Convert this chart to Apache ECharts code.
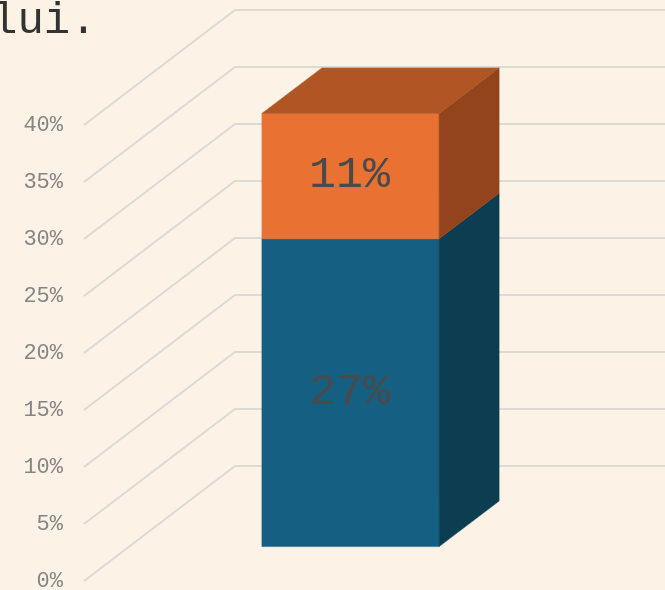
<!DOCTYPE html>
<html>
<head>
<meta charset="utf-8">
<style>
  html, body { margin: 0; padding: 0; background: #fcf2e5; }
  #chart { width: 665px; height: 590px; }
</style>
<script src="https://cdn.jsdelivr.net/npm/echarts@6/dist/echarts.min.js"></script>
</head>
<body>
<div id="chart"></div>
<script>
const categories = [''];
const bottomValues = [27];
const topValues = [11];
const tickValues = [0, 5, 10, 15, 20, 25, 30, 35, 40];

const FONT = '"Liberation Mono", monospace';
const wallDx = 151, wallDy = -115;     // floor depth
const barOffX = 45, barOffY = -34.4;   // where the bar front sits on the floor
const barDx = 60, barDy = -45.5;       // bar depth
const barShare = 0.4;

function shade(pts, fill) {
    return { type: 'polygon', shape: { points: pts }, style: { fill: fill, stroke: fill, lineWidth: 0.5 } };
}

function renderGrid(params, api) {
    const p = api.coord([0, api.value(0)]);
    const x0 = params.coordSys.x;
    return {
        type: 'polyline',
        shape: { points: [[x0, p[1]], [x0 + wallDx, p[1] + wallDy], [700, p[1] + wallDy]] },
        style: { stroke: '#dcdad7', lineWidth: 2, fill: null }
    };
}

function renderBlock(colors, showTop) {
    return function (params, api) {
        const c = api.value(0), from = api.value(1), to = api.value(2);
        const w = api.size([1, 0])[0] * barShare;
        const a = api.coord([c, from]), b = api.coord([c, to]);
        const x1 = a[0] - w / 2 + barOffX, x2 = x1 + w;
        const y1 = a[1] + barOffY, y2 = b[1] + barOffY;
        const children = [
            shade([[x1, y1], [x2, y1], [x2, y2], [x1, y2]], colors.front),
            shade([[x2, y1], [x2 + barDx, y1 + barDy], [x2 + barDx, y2 + barDy], [x2, y2]], colors.side)
        ];
        if (showTop) {
            children.push(shade([[x1, y2], [x2, y2], [x2 + barDx, y2 + barDy], [x1 + barDx, y2 + barDy]], colors.top));
        }
        children.push({
            type: 'text',
            style: {
                x: (x1 + x2) / 2 - 1, y: (y1 + y2) / 2 - 1,
                text: (to - from) + '%', fill: '#4a4a4a',
                font: '45px ' + FONT, align: 'center', verticalAlign: 'middle'
            }
        });
        return { type: 'group', children: children };
    };
}

const chart = echarts.init(document.getElementById('chart'), null, { renderer: 'canvas' });
chart.setOption({
    backgroundColor: '#fcf2e5',
    animation: false,
    grid: { left: 84, right: 138, top: 125, bottom: 9, outerBoundsMode: 'none' },
    xAxis: { type: 'category', data: categories, show: false },
    yAxis: {
        type: 'value', min: 0, max: 40, interval: 5,
        axisLine: { show: false }, axisTick: { show: false }, splitLine: { show: false },
        axisLabel: {
            formatter: '{value}%', color: '#858585', fontFamily: FONT, fontSize: 22,
            margin: 21, padding: [0, 0, 3, 0]
        }
    },
    graphic: [{
        type: 'text', left: -9, top: -1,
        style: { text: 'lui.', font: '44px ' + FONT, fill: '#333333' }
    }],
    series: [
        {
            type: 'custom', clip: false, z: 1,
            data: tickValues.map(v => [v]),
            encode: { y: 0 },
            renderItem: renderGrid
        },
        {
            type: 'custom', clip: false, z: 2,
            data: categories.map((c, i) => [i, 0, bottomValues[i]]),
            encode: { x: 0, y: [1, 2] },
            renderItem: renderBlock({ front: '#156082', side: '#0c3d51' }, false)
        },
        {
            type: 'custom', clip: false, z: 3,
            data: categories.map((c, i) => [i, bottomValues[i], bottomValues[i] + topValues[i]]),
            encode: { x: 0, y: [1, 2] },
            renderItem: renderBlock({ front: '#e97132', side: '#93441d', top: '#b05625' }, true)
        }
    ]
});
</script>
</body>
</html>
